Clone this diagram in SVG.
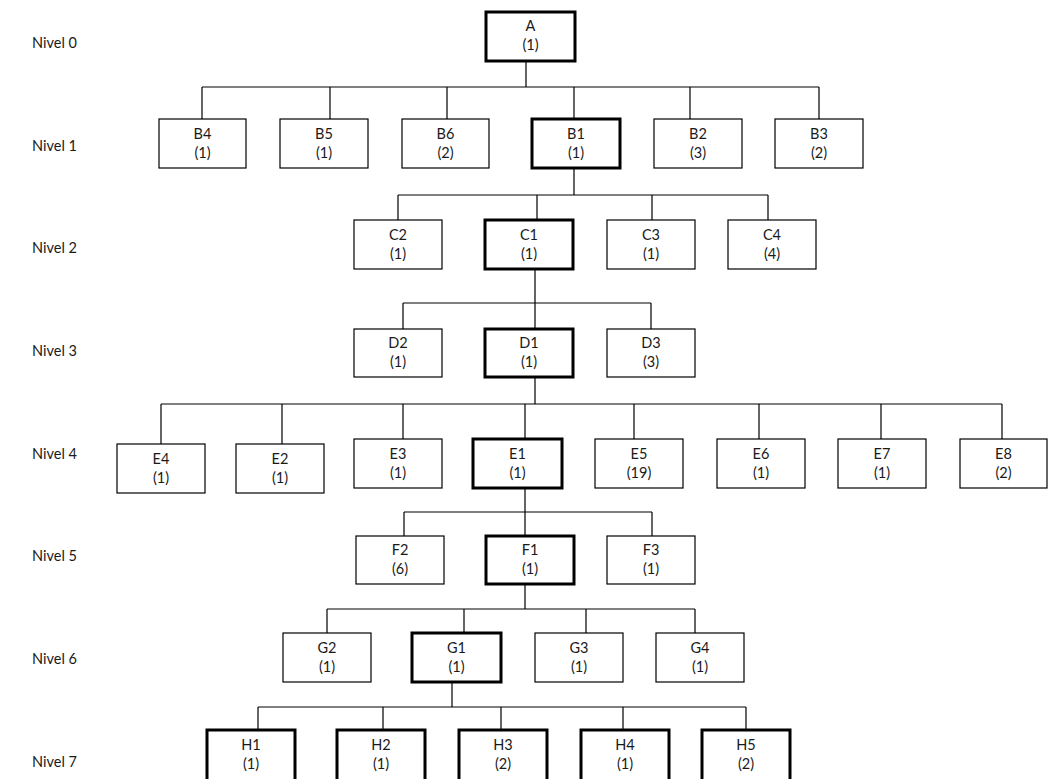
<svg xmlns="http://www.w3.org/2000/svg" width="1048" height="779" viewBox="0 0 1048 779">
<style>
.box{fill:#fff;stroke:#000;stroke-width:1.2}
.bold{fill:#fff;stroke:#000;stroke-width:3}
.t{font-family:Lato,"Liberation Sans",sans-serif;font-size:14.5px;fill:#1a1a1a;text-anchor:middle}
.lv{font-family:Lato,"Liberation Sans",sans-serif;font-size:14.5px;fill:#1a1a1a}
.c{fill:none;stroke:#000;stroke-width:1.2}
</style>
<rect width="1048" height="779" fill="#fff"/>
<g id="levels">
<text class="lv" x="32" y="48">Nivel 0</text>
<text class="lv" x="32" y="151">Nivel 1</text>
<text class="lv" x="32" y="253">Nivel 2</text>
<text class="lv" x="32" y="356">Nivel 3</text>
<text class="lv" x="32" y="459">Nivel 4</text>
<text class="lv" x="32" y="561">Nivel 5</text>
<text class="lv" x="32" y="664">Nivel 6</text>
<text class="lv" x="32" y="767">Nivel 7</text>
</g>
<g id="connectors">
<path class="c" d="M526 61V87M202 87H819M202 87V119M330 87V119M447 87V119M574 87V119M690 87V119M819 87V119"/>
<path class="c" d="M574 168V195M398 195H768M398 195V220M537 195V220M652 195V220M768 195V220"/>
<path class="c" d="M535 269V303M403 303H651M403 303V329M535 303V329M651 303V329"/>
<path class="c" d="M535 377V404M161 404H1002M161 404V444M282 404V444M403 404V439M525 404V439M634 404V439M759 404V439M881 404V439M1002 404V439"/>
<path class="c" d="M525 488V512M404 512H652M404 512V536M525 512V536M652 512V536"/>
<path class="c" d="M525 584V609M327 609H695M327 609V633M464 609V633M586 609V633M695 609V633"/>
<path class="c" d="M452 682V707M258 707H746M258 707V730M383 707V730M501 707V730M623 707V730M746 707V730"/>
</g>
<g id="A"><rect class="bold" x="486" y="12" width="89" height="49"/><text class="t" x="530.5" y="31">A</text><text class="t" x="530.5" y="50">(1)</text></g>
<g id="B4"><rect class="box" x="159" y="119" width="87" height="49"/><text class="t" x="202.5" y="139">B4</text><text class="t" x="202.5" y="158">(1)</text></g>
<g id="B5"><rect class="box" x="280" y="119" width="88" height="49"/><text class="t" x="324" y="139">B5</text><text class="t" x="324" y="158">(1)</text></g>
<g id="B6"><rect class="box" x="402" y="119" width="87" height="49"/><text class="t" x="445.5" y="139">B6</text><text class="t" x="445.5" y="158">(2)</text></g>
<g id="B1"><rect class="bold" x="532" y="119" width="88" height="49"/><text class="t" x="576" y="139">B1</text><text class="t" x="576" y="158">(1)</text></g>
<g id="B2"><rect class="box" x="654" y="119" width="88" height="49"/><text class="t" x="698" y="139">B2</text><text class="t" x="698" y="158">(3)</text></g>
<g id="B3"><rect class="box" x="775" y="119" width="88" height="49"/><text class="t" x="819" y="139">B3</text><text class="t" x="819" y="158">(2)</text></g>
<g id="C2"><rect class="box" x="354" y="220" width="88" height="49"/><text class="t" x="398" y="240">C2</text><text class="t" x="398" y="259">(1)</text></g>
<g id="C1"><rect class="bold" x="485" y="220" width="88" height="49"/><text class="t" x="529" y="240">C1</text><text class="t" x="529" y="259">(1)</text></g>
<g id="C3"><rect class="box" x="607" y="220" width="88" height="49"/><text class="t" x="651" y="240">C3</text><text class="t" x="651" y="259">(1)</text></g>
<g id="C4"><rect class="box" x="728" y="220" width="88" height="49"/><text class="t" x="772" y="240">C4</text><text class="t" x="772" y="259">(4)</text></g>
<g id="D2"><rect class="box" x="354" y="329" width="88" height="48"/><text class="t" x="398" y="348">D2</text><text class="t" x="398" y="367">(1)</text></g>
<g id="D1"><rect class="bold" x="485" y="329" width="88" height="48"/><text class="t" x="529" y="348">D1</text><text class="t" x="529" y="367">(1)</text></g>
<g id="D3"><rect class="box" x="607" y="329" width="88" height="48"/><text class="t" x="651" y="348">D3</text><text class="t" x="651" y="367">(3)</text></g>
<g id="E4"><rect class="box" x="117" y="444" width="88" height="49"/><text class="t" x="161" y="464">E4</text><text class="t" x="161" y="483">(1)</text></g>
<g id="E2"><rect class="box" x="236" y="444" width="88" height="49"/><text class="t" x="280" y="464">E2</text><text class="t" x="280" y="483">(1)</text></g>
<g id="E3"><rect class="box" x="354" y="439" width="88" height="49"/><text class="t" x="398" y="459">E3</text><text class="t" x="398" y="478">(1)</text></g>
<g id="E1"><rect class="bold" x="473" y="439" width="89" height="49"/><text class="t" x="517.5" y="459">E1</text><text class="t" x="517.5" y="478">(1)</text></g>
<g id="E5"><rect class="box" x="595" y="439" width="88" height="49"/><text class="t" x="639" y="459">E5</text><text class="t" x="639" y="478">(19)</text></g>
<g id="E6"><rect class="box" x="717" y="439" width="88" height="49"/><text class="t" x="761" y="459">E6</text><text class="t" x="761" y="478">(1)</text></g>
<g id="E7"><rect class="box" x="838" y="439" width="88" height="49"/><text class="t" x="882" y="459">E7</text><text class="t" x="882" y="478">(1)</text></g>
<g id="E8"><rect class="box" x="960" y="439" width="87" height="49"/><text class="t" x="1003.5" y="459">E8</text><text class="t" x="1003.5" y="478">(2)</text></g>
<g id="F2"><rect class="box" x="356" y="536" width="88" height="48"/><text class="t" x="400" y="555">F2</text><text class="t" x="400" y="574">(6)</text></g>
<g id="F1"><rect class="bold" x="486" y="536" width="88" height="48"/><text class="t" x="530" y="555">F1</text><text class="t" x="530" y="574">(1)</text></g>
<g id="F3"><rect class="box" x="607" y="536" width="88" height="48"/><text class="t" x="651" y="555">F3</text><text class="t" x="651" y="574">(1)</text></g>
<g id="G2"><rect class="box" x="283" y="633" width="88" height="49"/><text class="t" x="327" y="653">G2</text><text class="t" x="327" y="672">(1)</text></g>
<g id="G1"><rect class="bold" x="412" y="633" width="89" height="49"/><text class="t" x="456.5" y="653">G1</text><text class="t" x="456.5" y="672">(1)</text></g>
<g id="G3"><rect class="box" x="535" y="633" width="88" height="49"/><text class="t" x="579" y="653">G3</text><text class="t" x="579" y="672">(1)</text></g>
<g id="G4"><rect class="box" x="656" y="633" width="88" height="49"/><text class="t" x="700" y="653">G4</text><text class="t" x="700" y="672">(1)</text></g>
<g id="H1"><rect class="bold" x="207" y="730" width="88" height="56"/><text class="t" x="251" y="750">H1</text><text class="t" x="251" y="769">(1)</text></g>
<g id="H2"><rect class="bold" x="337" y="730" width="88" height="56"/><text class="t" x="381" y="750">H2</text><text class="t" x="381" y="769">(1)</text></g>
<g id="H3"><rect class="bold" x="459" y="730" width="88" height="56"/><text class="t" x="503" y="750">H3</text><text class="t" x="503" y="769">(2)</text></g>
<g id="H4"><rect class="bold" x="581" y="730" width="88" height="56"/><text class="t" x="625" y="750">H4</text><text class="t" x="625" y="769">(1)</text></g>
<g id="H5"><rect class="bold" x="702" y="730" width="88" height="56"/><text class="t" x="746" y="750">H5</text><text class="t" x="746" y="769">(2)</text></g>
</svg>
